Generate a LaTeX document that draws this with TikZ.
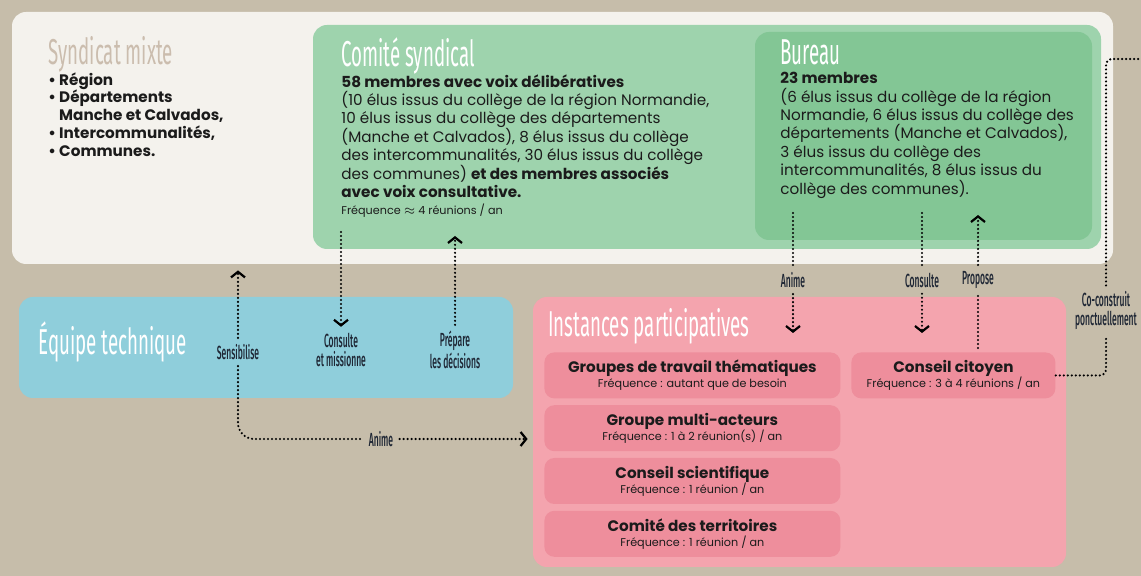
\documentclass[tikz,border=0pt]{standalone}
\usepackage{fontspec}
\setmainfont{Poppins}
\newfontfamily\fonttitre[FakeStretch=0.52]{Fira Sans}
\IfFontExistsTF{Fira Sans Medium}
  {\newfontfamily\fontverbe[FakeStretch=0.45]{Fira Sans Medium}}
  {\newfontfamily\fontverbe[FakeStretch=0.45]{Fira Sans}}
\usepackage{tikz}
\usetikzlibrary{arrows.meta,positioning,fit}

\definecolor{carton}{RGB}{198,189,170}
\definecolor{blanc}{RGB}{244,242,237}
\definecolor{vert}{RGB}{158,211,173}
\definecolor{vertfonce}{RGB}{131,198,149}
\definecolor{bleu}{RGB}{143,206,219}
\definecolor{rose}{RGB}{244,164,174}
\definecolor{rosefonce}{RGB}{238,142,156}
\definecolor{beige}{RGB}{203,189,174}
\definecolor{encre}{RGB}{27,27,27}
\definecolor{marine}{RGB}{30,38,52}

\tikzset{
  cadre/.style={rounded corners=7pt, inner sep=0pt},
  titre/.style={font=\fonttitre\fontsize{18}{18}\selectfont, text=white, anchor=base west, inner sep=0pt},
  corps/.style={font=\fontsize{7.6}{9.2}\selectfont, text=encre, align=left, anchor=north west, inner sep=0pt},
  petit/.style={font=\fontsize{5.6}{6}\selectfont, text=encre, anchor=base west, inner sep=0pt},
  verbe/.style={font=\fontverbe\fontsize{9.5}{9.5}\selectfont, text=marine, align=center, inner sep=3pt},
  instance/.style={cadre, rounded corners=5pt, fill=rosefonce, minimum height=23pt, align=center, text=encre, font=\fontsize{7.6}{7.6}\selectfont},
  lien/.style={line width=1.2pt, dash pattern=on 0pt off 2pt, line cap=round},
  fleche/.style={lien, -{Straight Barb[length=2.8pt, width=7pt, line width=1.1pt]}},
}

\begin{document}
\begin{tikzpicture}[x=0.5pt, y=-0.5pt]
    \useasboundingbox[fill=carton] (0,0) rectangle (1141,576);
    \node[cadre, fill=blanc, fit={(12,12) (1113,264)}] (syn) {};
    \node[cadre, fill=vert, fit={(313,25) (1101,249)}] (com) {};
    \node[cadre, fill=vertfonce, fit={(755,32) (1092,240)}] (bur) {};
    \node[cadre, fill=bleu, fit={(19,297) (513,398)}] (equ) {};
    \node[cadre, fill=rose, fit={(533,297) (1066,567)}] (ip) {};

    \node[titre, text=beige] (t-syn) at (48,65) {Syndicat mixte};
    \node[titre] (t-com) at (341,67) {Comité syndical};
    \node[titre] (t-bur) at (780,65) {Bureau};
    \node[titre] (t-equ) at (38,355) {Équipe technique};
    \node[titre] (t-ip) at (548,337) {Instances participatives};

    \node[corps, font=\fontsize{7.6}{8.9}\selectfont\bfseries] (liste) at (48,72)
        {• Région\\• Départements\\\phantom{• }Manche et Calvados,\\• Intercommunalités,\\• Communes.};
    \node[corps] (x-com) at (341,74)
        {\textbf{58 membres avec voix délibératives}\\(10 élus issus du collège de la région Normandie,\\10 élus issus du collège des départements\\(Manche et Calvados), 8 élus issus du collège\\des intercommunalités, 30 élus issus du collège\\des communes) \textbf{et des membres associés}\\\textbf{avec voix consultative.}};
    \node[petit] (f-com) at (341,215) {Fréquence $\approx$ 4 réunions / an};
    \node[corps] (x-bur) at (780,72)
        {\textbf{23 membres}\\(6 élus issus du collège de la région\\Normandie, 6 élus issus du collège des\\départements (Manche et Calvados),\\3 élus issus du collège des\\intercommunalités, 8 élus issus du\\collège des communes).};

    \node[instance, minimum width=148pt, anchor=north west] (gt) at (544,352)
        {{\bfseries Groupes de travail thématiques}\\{\fontsize{5.6}{7}\selectfont Fréquence : autant que de besoin}};
    \node[instance, minimum width=148pt, below=3pt of gt] (gma)
        {{\bfseries Groupe multi-acteurs}\\{\fontsize{5.6}{7}\selectfont Fréquence : 1 à 2 réunion(s) / an}};
    \node[instance, minimum width=148pt, below=3pt of gma] (cs)
        {{\bfseries Conseil scientifique}\\{\fontsize{5.6}{7}\selectfont Fréquence : 1 réunion / an}};
    \node[instance, minimum width=148pt, below=3pt of cs] (ct)
        {{\bfseries Comité des territoires}\\{\fontsize{5.6}{7}\selectfont Fréquence : 1 réunion / an}};
    \node[instance, minimum width=102pt, anchor=north west] (cc) at (851,352)
        {{\bfseries Conseil citoyen}\\{\fontsize{5.6}{7}\selectfont Fréquence : 3 à 4 réunions / an}};

    \node[verbe] (sens) at (238,352) {Sensibilise};
    \node[verbe] (cm) at (341,350) {Consulte\\et missionne};
    \node[verbe] (pd) at (455,350) {Prépare\\les décisions};
    \node[verbe] (an2) at (381,439) {Anime};
    \node[verbe] (an1) at (793,280) {Anime};
    \node[verbe] (con) at (922,280) {Consulte};
    \node[verbe] (pro) at (978,280) {Propose};
    \node[verbe] (co) at (1106,311) {Co-construit\\ponctuellement};

    \coordinate (cm-h) at (341,232);
    \coordinate (pd-h) at (455,236);
    \coordinate (an1-h) at (793,213);
    \coordinate (an1-b) at (793,333);
    \coordinate (con-h) at (922,213);
    \coordinate (con-b) at (922,333);
    \coordinate (pro-h) at (978,215);
    \coordinate (pro-b) at (978,348);
    \coordinate (bord) at (1141,59);

    \draw[fleche] (sens.north) -- ([yshift=-3pt]sens.north |- syn.south);
    \draw[lien, rounded corners=8pt] (sens.south) -- (sens.south |- an2) -- (an2.west);
    \draw[fleche, shorten >=2.5pt] (an2.east) -- (an2 -| ip.west);
    \draw[fleche] (cm-h) -- (cm.north);
    \draw[fleche] (pd.north) -- (pd-h);
    \draw[lien] (an1-h) -- (an1.north);
    \draw[fleche] (an1.south) -- (an1-b);
    \draw[lien] (con-h) -- (con.north);
    \draw[fleche] (con.south) -- (con-b);
    \draw[lien] (pro-b) -- (pro.south);
    \draw[fleche] (pro.north) -- (pro-h);
    \draw[lien, rounded corners=3pt] (cc.east) -- (cc.east -| co.south) -- (co.south);
    \draw[lien, rounded corners=3pt] (co.north) -- (co.north |- bord) -- (bord);
\end{tikzpicture}
\end{document}
